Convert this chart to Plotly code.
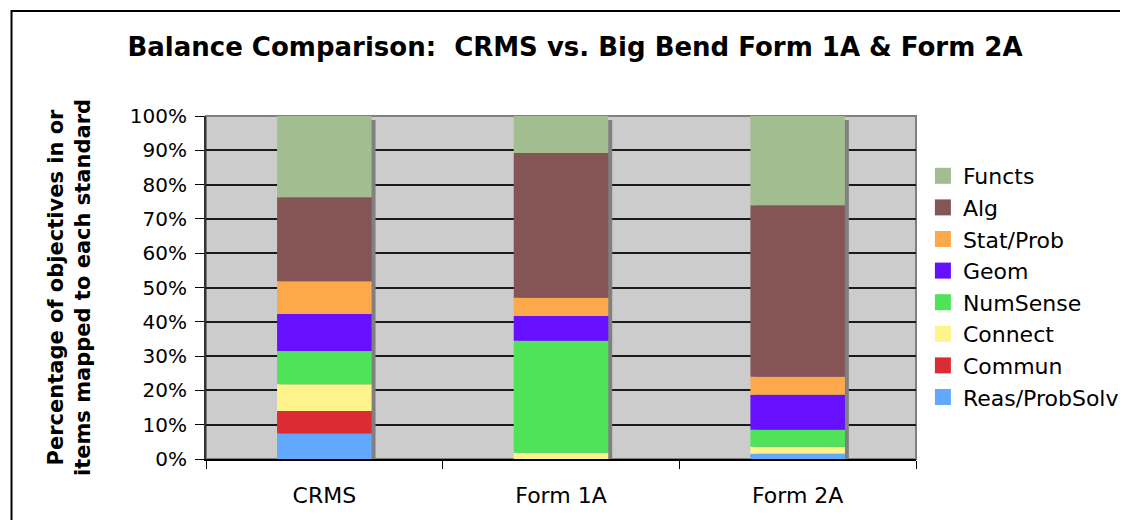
import numpy as np
import plotly.graph_objects as go

categories = ["CRMS", "Form 1A", "Form 2A"]
series_names = ["Reas/ProbSolv", "Commun", "Connect", "NumSense", "Geom", "Stat/Prob", "Alg", "Functs"]
reas = [7.4, 0.0, 1.5]
commun = [6.6, 0.0, 0.0]
connect = [7.8, 1.8, 2.1]
numsense = [9.7, 32.7, 4.9]
geom = [10.8, 7.2, 10.2]
statprob = [9.5, 5.3, 5.3]
alg = [24.5, 42.2, 50.0]
functs = [23.7, 10.8, 26.0]
y_ticks = list(range(0, 101, 10))
y_tick_labels = [f"{v}%" for v in y_ticks]

series_values = [reas, commun, connect, numsense, geom, statprob, alg, functs]
colors = ["#63A8FF", "#DD2B33", "#FFF48C", "#4FE35A", "#6610FF", "#FDA84A", "#855555", "#A2BD90"]

W, H = 1128, 520
OFF = 8  # page body margin
ml, mr, mt, mb = 206 - OFF, 209, 116 - OFF, 69
pw = W - ml - mr
ph = H - mt - mb
cat_px = pw / len(categories)
bw = 96 / cat_px
sh = 4 / cat_px

fig = go.Figure()

totals = np.sum(np.array(series_values), axis=0)
# shadow
fig.add_trace(go.Bar(
    x=categories, y=totals - 4 / ph * 100, base=0,
    width=bw, offset=-bw / 2 + sh,
    marker=dict(color="#808080", line=dict(width=0)),
    showlegend=False, hoverinfo="skip"))

base = np.zeros(len(categories))
for name, vals, col in zip(series_names, series_values, colors):
    v = np.array(vals, dtype=float)
    fig.add_trace(go.Bar(
        x=categories, y=v, base=base.copy(), name=name,
        width=bw, offset=-bw / 2, showlegend=False,
        marker=dict(color=col, line=dict(width=0))))
    base = base + v

# legend entries with larger square swatches (Functs on top)
for name, col in list(zip(series_names, colors))[::-1]:
    fig.add_trace(go.Scatter(
        x=[None], y=[None], mode="markers", name=name,
        marker=dict(symbol="square", size=18, color=col), hoverinfo="skip"))

fnt = "DejaVu Sans, Verdana, sans-serif"
fig.update_layout(
    width=W, height=H,
    barmode="overlay",
    margin=dict(l=ml, r=mr, t=mt, b=mb),
    paper_bgcolor="white",
    plot_bgcolor="#CCCCCC",
    font=dict(family=fnt, size=20, color="black"),
    title=dict(text="<b>Balance Comparison:  CRMS vs. Big Bend Form 1A & Form 2A</b>",
               x=(575 - OFF) / W, xref="container", xanchor="center",
               y=1 - (47 - OFF) / H, yref="container", yanchor="middle",
               font=dict(size=26, family=fnt)),
    legend=dict(x=(934 - OFF - ml) / pw, xanchor="left", y=(H - mb - (155 - OFF)) / ph, yanchor="top",
                yref="paper", traceorder="normal", font=dict(size=22, family=fnt),
                bgcolor="rgba(0,0,0,0)", itemwidth=30, tracegroupgap=0),
    xaxis=dict(type="category", tickson="boundaries", ticks="outside", ticklen=8,
               tickcolor="black", showline=True, linecolor="black", linewidth=1.5,
               showgrid=False, range=[-0.5, 2.5], tickfont=dict(size=22), ticklabelstandoff=16),
    yaxis=dict(range=[0, 100], tickvals=y_ticks, ticktext=y_tick_labels, ticks="outside", ticklen=9,
               tickcolor="black", showline=True, linecolor="#333", linewidth=2,
               showgrid=True, gridcolor="#1a1a1a", gridwidth=1.5, zeroline=False,
               tickfont=dict(size=20), ticklabelstandoff=4,
               title=dict(text="<b>Percentage of objectives in or<br>items mapped to each standard</b>",
                          font=dict(size=21), standoff=33)),
)
# plot area border (top/right)
fig.add_shape(type="rect", xref="paper", yref="paper", x0=0, y0=0, x1=1, y1=1,
              line=dict(color="#808080", width=2), layer="below")
# outer chart border
fig.add_shape(type="rect", xref="paper", yref="paper",
              x0=(0.5 - ml) / pw, y0=-2, x1=2, y1=(H - mb - 3) / ph,
              line=dict(color="black", width=2))
fig.write_html("out.html")
